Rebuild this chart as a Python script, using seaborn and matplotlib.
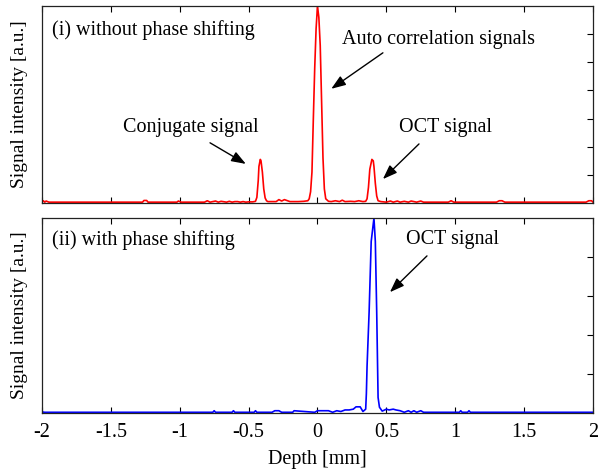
import matplotlib
matplotlib.use("Agg")
import matplotlib.pyplot as plt
import numpy as np
import pandas as pd
import seaborn as sns

# depth axis values [mm] and signal intensities (arbitrary units)
top_depth = [-2.00, -1.99, -1.98, -1.97, -1.95, -1.40, -1.27, -1.26, -1.24, -1.23,
             -1.02, -1.01, -0.99, -0.82, -0.80, -0.78, -0.74, -0.72, -0.70, -0.66,
             -0.64, -0.62, -0.60, -0.58, -0.56, -0.54, -0.52, -0.50, -0.47, -0.45,
             -0.44, -0.43, -0.425, -0.415, -0.41, -0.40, -0.39, -0.38, -0.37, -0.36,
             -0.33, -0.30, -0.28, -0.26, -0.24, -0.20, -0.17, -0.14, -0.10, -0.07,
             -0.06, -0.05, -0.04, -0.03, -0.02, -0.01, 0.00, 0.01, 0.02, 0.03,
             0.04, 0.05, 0.06, 0.08, 0.10, 0.13, 0.16, 0.18, 0.20, 0.24,
             0.27, 0.30, 0.33, 0.35, 0.36, 0.37, 0.38, 0.395, 0.405, 0.41,
             0.42, 0.43, 0.44, 0.46, 0.50, 0.53, 0.55, 0.58, 0.60, 0.63,
             0.66, 0.68, 0.72, 0.75, 0.77, 0.80, 0.95, 0.97, 0.99, 1.30,
             1.32, 1.34, 1.36, 1.90, 1.95, 1.97, 1.99, 2.00]
top_signal = [0.03, 0.08, 0.03, 0.07, 0.03, 0.03, 0.03, 0.09, 0.09, 0.03,
              0.03, 0.07, 0.03, 0.03, 0.08, 0.03, 0.07, 0.03, 0.06, 0.03,
              0.06, 0.03, 0.05, 0.05, 0.03, 0.05, 0.03, 0.04, 0.04, 0.06,
              0.20, 0.80, 1.30, 1.55, 1.50, 1.10, 0.50, 0.18, 0.08, 0.05,
              0.05, 0.05, 0.12, 0.07, 0.12, 0.05, 0.05, 0.05, 0.06, 0.08,
              0.15, 0.40, 1.10, 3.00, 4.80, 6.20, 7.00, 6.60, 5.60, 3.60,
              1.60, 0.50, 0.15, 0.06, 0.05, 0.08, 0.05, 0.10, 0.05, 0.06,
              0.05, 0.08, 0.05, 0.06, 0.15, 0.55, 1.20, 1.55, 1.50, 1.30,
              0.70, 0.25, 0.08, 0.05, 0.03, 0.07, 0.03, 0.07, 0.03, 0.06,
              0.03, 0.07, 0.03, 0.07, 0.03, 0.03, 0.03, 0.08, 0.03, 0.03,
              0.08, 0.08, 0.03, 0.03, 0.03, 0.08, 0.08, 0.03]

bottom_depth = [-2.00, -1.98, -0.76, -0.75, -0.74, -0.62, -0.61, -0.60, -0.46, -0.45,
                -0.44, -0.33, -0.31, -0.28, -0.26, -0.18, -0.17, -0.02, 0.00, 0.04,
                0.08, 0.11, 0.14, 0.17, 0.20, 0.23, 0.26, 0.28, 0.31, 0.33,
                0.35, 0.355, 0.36, 0.375, 0.39, 0.41, 0.42, 0.43, 0.44, 0.45,
                0.47, 0.50, 0.52, 0.55, 0.57, 0.60, 0.63, 0.66, 0.68, 0.70,
                0.72, 0.75, 0.77, 1.03, 1.04, 1.05, 1.09, 1.10, 1.11, 2.00]
bottom_signal = [0.03, 0.02, 0.02, 0.06, 0.02, 0.02, 0.06, 0.02, 0.02, 0.06,
                 0.02, 0.02, 0.06, 0.06, 0.02, 0.02, 0.06, 0.02, 0.06, 0.06,
                 0.06, 0.02, 0.06, 0.04, 0.08, 0.08, 0.10, 0.16, 0.16, 0.04,
                 0.10, 0.50, 1.20, 2.60, 4.40, 5.00, 4.40, 2.60, 0.40, 0.15,
                 0.05, 0.10, 0.08, 0.10, 0.08, 0.06, 0.02, 0.06, 0.02, 0.06,
                 0.02, 0.06, 0.02, 0.02, 0.06, 0.02, 0.02, 0.06, 0.02, 0.02]

x_ticks = [-2, -1.5, -1, -0.5, 0, 0.5, 1, 1.5, 2]
x_tick_labels = ["-2", "-1.5", "-1", "-0.5", "0", "0.5", "1", "1.5", "2"]

sns.set_style("ticks")
plt.rcParams["font.family"] = ["Liberation Serif", "DejaVu Serif"]
plt.rcParams["font.size"] = 14.5
for k in ["text.color", "axes.labelcolor", "xtick.color", "ytick.color"]:
    plt.rcParams[k] = "black"

fig = plt.figure(figsize=(6.05, 4.71), dpi=100)
ax1 = fig.add_axes([0.0694, 0.569, 0.9107, 0.418])
ax2 = fig.add_axes([0.0694, 0.123, 0.9107, 0.414])

df_top = pd.DataFrame({"depth": top_depth, "signal": top_signal})
df_bot = pd.DataFrame({"depth": bottom_depth, "signal": bottom_signal})
sns.lineplot(data=df_top, x="depth", y="signal", ax=ax1, color="red", lw=1.2)
sns.lineplot(data=df_bot, x="depth", y="signal", ax=ax2, color="blue", lw=1.2)

arrow = dict(arrowstyle="-|>,head_length=0.6,head_width=0.22", color="black", lw=1, shrinkA=0, shrinkB=0)

for ax, ymax in [(ax1, 7), (ax2, 5)]:
    ax.set_xlim(-2, 2)
    ax.set_ylim(0, ymax)
    ax.set_xticks(x_ticks)
    ax.set_yticks(range(1, ymax))
    ax.tick_params(axis="x", direction="in", top=True, bottom=True, length=4, pad=7, labelsize=14.5)
    ax.tick_params(axis="y", direction="in", left=False, right=True, labelleft=False, length=4)
    for s in ax.spines.values():
        s.set_visible(True)
        s.set_linewidth(0.9)
        s.set_color("#222222")
    ax.set_ylabel("Signal intensity [a.u.]", fontsize=14)
    ax.yaxis.set_label_coords(-0.025, 0.5)

ax1.set_xticklabels([])
ax1.set_xlabel("")
ax2.set_xticklabels(x_tick_labels)
ax2.set_xlabel("Depth [mm]", fontsize=14.5, labelpad=6)

ax1.text(0.018, 0.88, "(i) without phase shifting", transform=ax1.transAxes, va="center", ha="left")
ax1.text(0.88, 5.8, "Auto correlation signals", ha="center", va="center")
ax1.annotate("", xy=(0.10, 4.06), xytext=(0.475, 5.34), arrowprops=arrow)
ax1.text(-0.92, 2.67, "Conjugate signal", ha="center", va="center")
ax1.annotate("", xy=(-0.52, 1.39), xytext=(-0.78, 2.14), arrowprops=arrow)
ax1.text(0.93, 2.67, "OCT signal", ha="center", va="center")
ax1.annotate("", xy=(0.475, 0.85), xytext=(0.737, 2.1), arrowprops=arrow)

ax2.text(0.018, 0.887, "(ii) with phase shifting", transform=ax2.transAxes, va="center", ha="left")
ax2.text(0.98, 4.44, "OCT signal", ha="center", va="center")
ax2.annotate("", xy=(0.526, 3.10), xytext=(0.795, 4.03), arrowprops=arrow)

fig.savefig("out.png", dpi=100)
